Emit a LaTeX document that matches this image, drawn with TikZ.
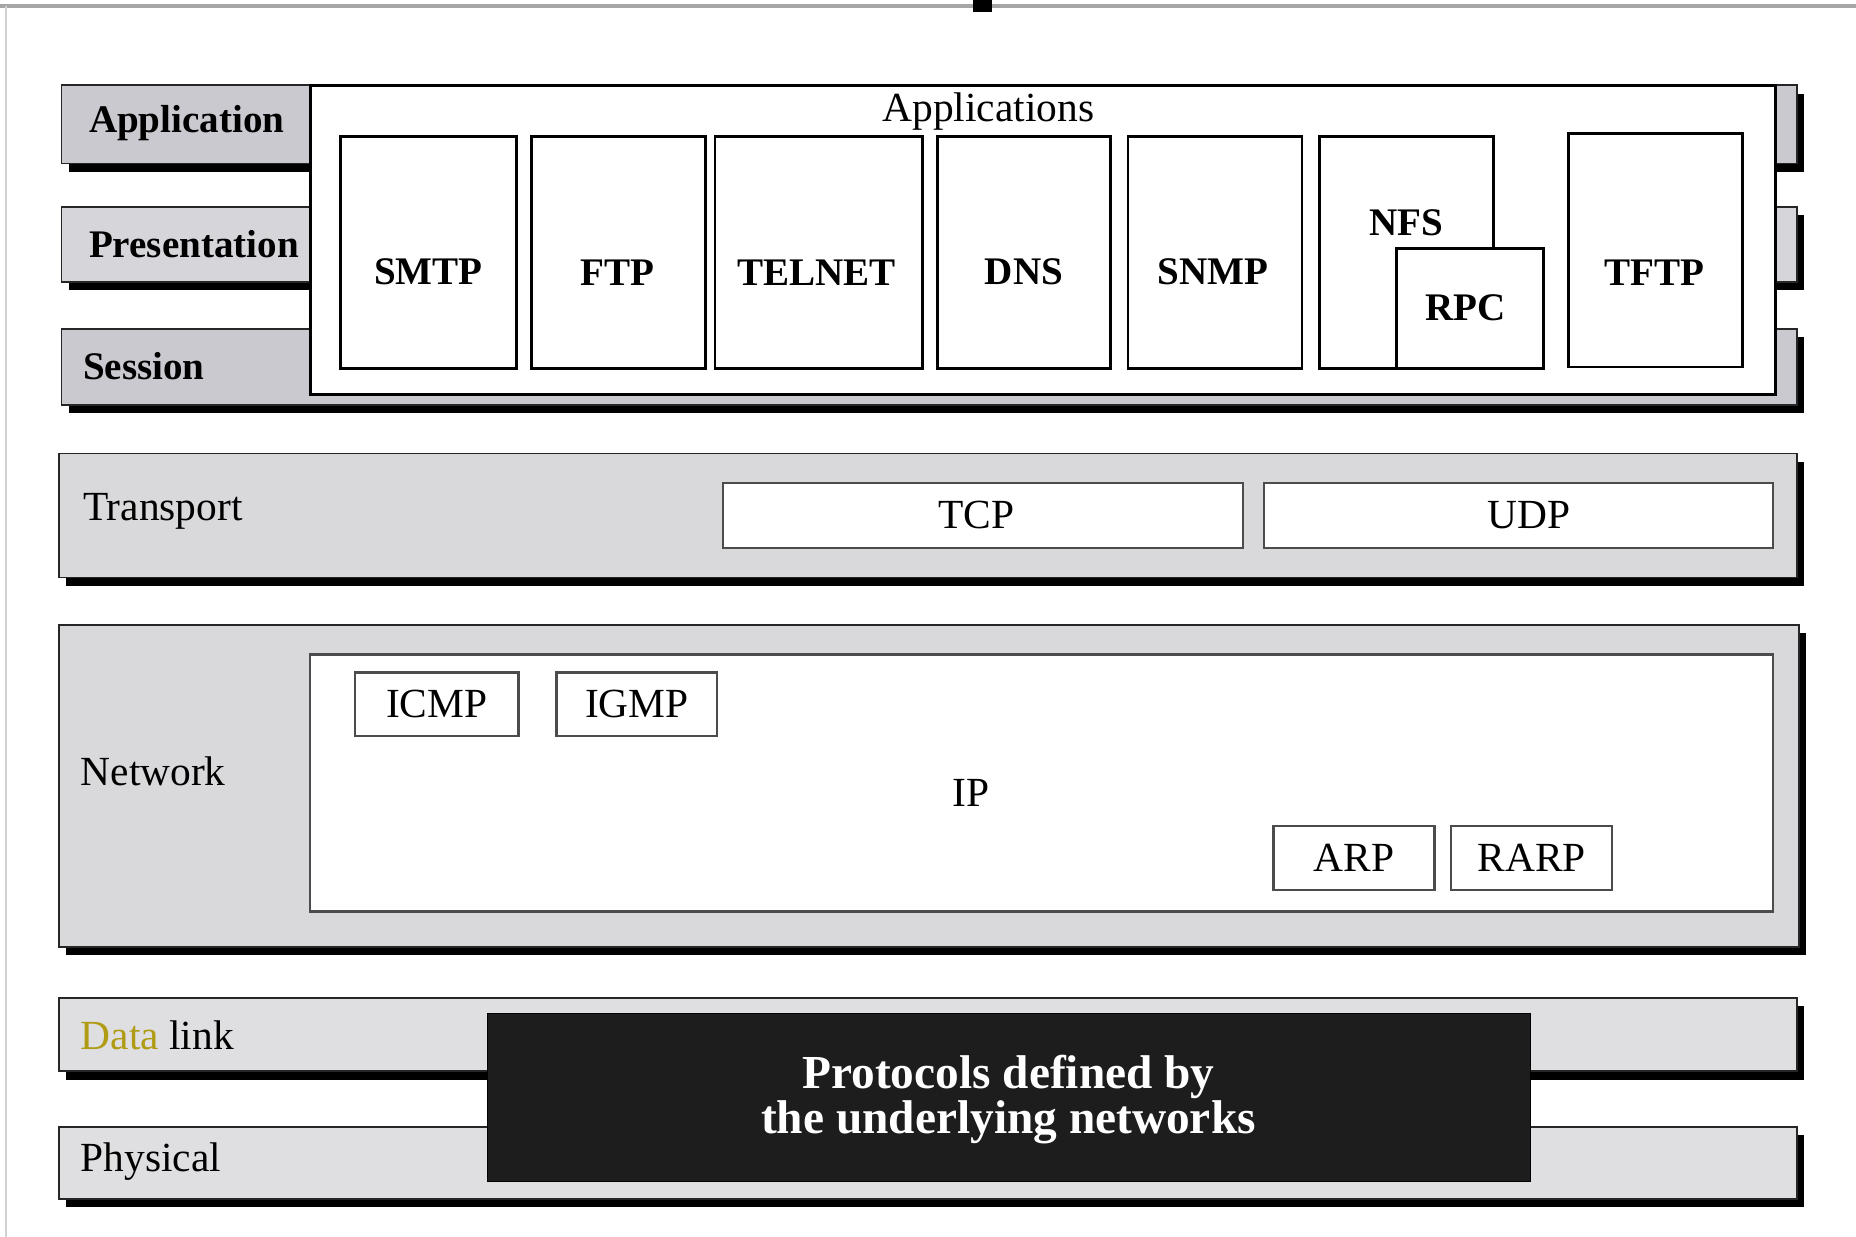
\documentclass[tikz,border=0pt]{standalone}
\usepackage{fontspec}
\setmainfont{Liberation Serif}
\usetikzlibrary{shadows}
\definecolor{bandA}{HTML}{C9C9CF}
\definecolor{bandP}{HTML}{D6D6DA}
\definecolor{bandT}{HTML}{D9D9DC}
\definecolor{bandL}{HTML}{DFDFE2}
\definecolor{darkbox}{HTML}{1D1D1D}
\definecolor{olive}{RGB}{176,156,20}
\begin{document}
\begin{tikzpicture}[x=1pt,y=-1pt,
  band/.style={draw=black!85, line width=1.4pt, inner sep=0pt, outer sep=0pt,
     drop shadow={shadow xshift=6pt, shadow yshift=-7pt, fill=black, opacity=1}},
  appbox/.style={draw=black, line width=2.4pt, fill=white, inner sep=0pt, outer sep=0pt},
  protbox/.style={draw=black!70, line width=2pt, fill=white, inner sep=0pt, outer sep=0pt},
  btxt/.style={font=\fontsize{33}{38}\selectfont\bfseries, inner sep=0pt},
  rtxt/.style={font=\fontsize{35}{40}\selectfont, inner sep=0pt},
  lbl/.style={anchor=west, inner sep=0pt}
]
\useasboundingbox (0,0) rectangle (1568,1045);
\fill[white] (0,0) rectangle (1568,1045);
% frame remnants
\draw[gray!70, line width=3pt] (0,5) -- (1568,5);
\draw[gray!35, line width=1.5pt] (5,5) -- (5,1045);
\fill[black] (822,0) rectangle (838,10);

% upper three layers
\node[band, fill=bandA, minimum width=1466, minimum height=66] (appband) at (785,105) {};
\node[band, fill=bandP, minimum width=1466, minimum height=63] (presband) at (785,206.5) {};
\node[band, fill=bandA, minimum width=1466, minimum height=64] (sessband) at (785,310) {};
\node[btxt, lbl] (applbl) at (75,104) {Application};
\node[btxt, lbl] (preslbl) at (75,206) {Presentation};
\node[btxt, lbl] (sesslbl) at (70,309) {Session};

% applications box
\node[appbox, minimum width=1238, minimum height=261] (apps) at (881,202.5) {};
\node[rtxt] (appstxt) at (835,94) {Applications};
\node[appbox, minimum width=148, minimum height=196] (smtp) at (362,213) {};
\node[appbox, minimum width=147, minimum height=196] (ftp) at (522.5,213) {};
\node[appbox, minimum width=175, minimum height=196] (telnet) at (691.5,213) {};
\node[appbox, minimum width=146, minimum height=196] (dns) at (865,213) {};
\node[appbox, minimum width=147, minimum height=196] (snmp) at (1026.5,213) {};
\node[appbox, minimum width=147, minimum height=196] (nfs) at (1188.5,213) {};
\node[appbox, minimum width=124, minimum height=101] (rpc) at (1242,260.5) {};
\node[appbox, minimum width=147, minimum height=197] (tftp) at (1398.5,211.5) {};
\node[btxt] (smtptxt) at (362,230) {SMTP};
\node[btxt] (ftptxt) at (522,230) {FTP};
\node[btxt] (telnettxt) at (690,230) {TELNET};
\node[btxt] (dnstxt) at (865,230) {DNS};
\node[btxt] (snmptxt) at (1025,230) {SNMP};
\node[btxt] (nfstxt) at (1188,188) {NFS};
\node[btxt] (rpctxt) at (1238,260) {RPC};
\node[btxt] (tftptxt) at (1398,230) {TFTP};

% transport
\node[band, fill=bandT, minimum width=1468, minimum height=105] (transband) at (784,435.5) {};
\node[rtxt, lbl] (translbl) at (70,432) {Transport};
\node[protbox, rtxt, minimum width=439, minimum height=55] (tcp) at (830.5,435.5) {};
\node[protbox, rtxt, minimum width=430, minimum height=55] (udp) at (1283,435.5) {};
\node[rtxt] (tcptxt) at (825,435) {TCP};
\node[rtxt] (udptxt) at (1292,435) {UDP};

% network
\node[band, fill=bandT, minimum width=1470, minimum height=272] (netband) at (785,664) {};
\node[rtxt, lbl] (netlbl) at (68,652) {Network};
\node[protbox, minimum width=1236, minimum height=217] (ip) at (880,661.5) {};
\node[rtxt] (iptxt) at (820,670) {IP};
\node[protbox, rtxt, minimum width=138, minimum height=54] (icmp) at (369,595) {ICMP};
\node[protbox, rtxt, minimum width=136, minimum height=54] (igmp) at (538,595) {IGMP};
\node[protbox, rtxt, minimum width=136, minimum height=54] (arp) at (1144,725) {ARP};
\node[protbox, rtxt, minimum width=136, minimum height=54] (rarp) at (1294,725) {RARP};

% data link and physical
\node[band, fill=bandL, minimum width=1468, minimum height=62] (dlband) at (784,874) {};
\node[rtxt, lbl] (dllbl) at (68,875) {\textcolor{olive}{Data} link};
\node[band, fill=bandL, minimum width=1468, minimum height=61] (phyband) at (784,982.5) {};
\node[rtxt, lbl] (phylbl) at (68,981) {Physical};
\node[fill=darkbox, draw=black, line width=1pt, minimum width=881, minimum height=142,
      inner sep=0pt, outer sep=0pt] (under) at (852.5,927) {};
\node[text=white, align=center, inner sep=0pt,
      font=\fontsize{40}{36}\selectfont\bfseries] (undertxt) at (852,929)
      {Protocols defined by\\the underlying networks};
\end{tikzpicture}
\end{document}
